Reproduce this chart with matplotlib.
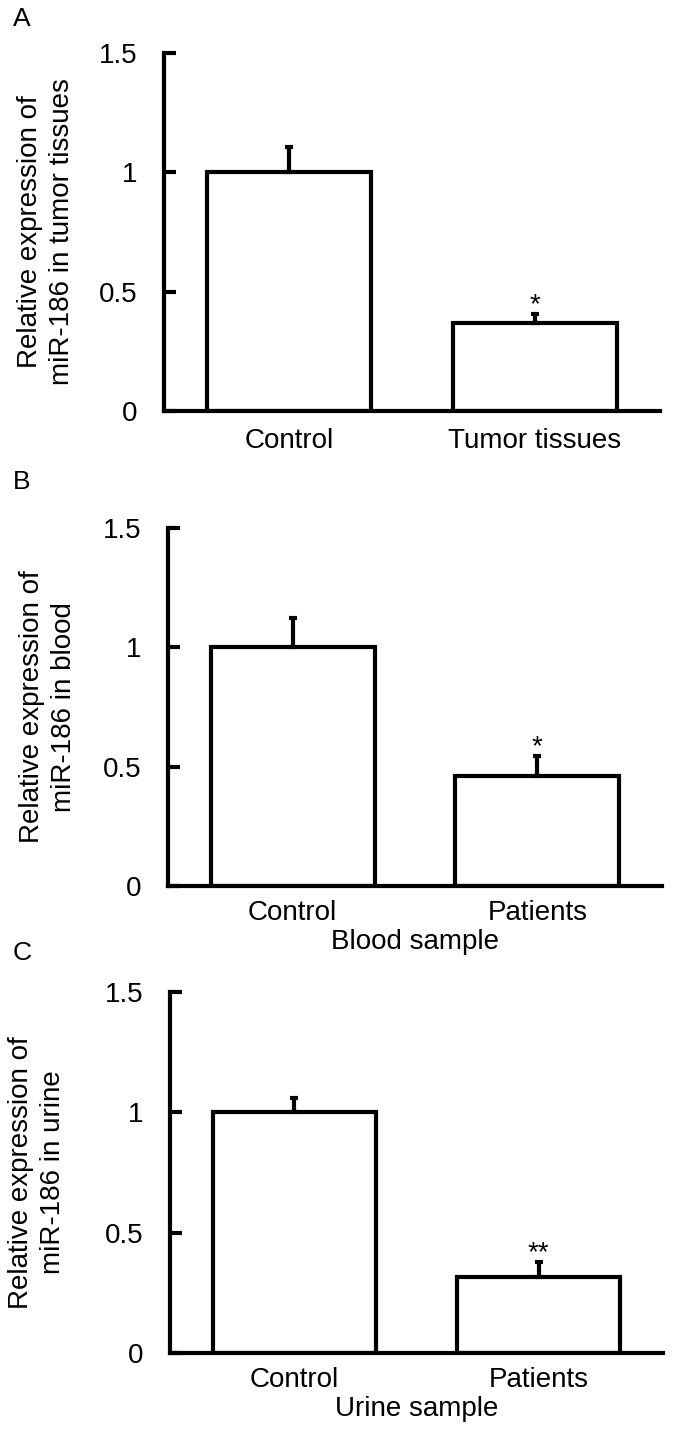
import matplotlib
matplotlib.use("Agg")
import matplotlib.pyplot as plt

plt.rcParams['font.family'] = ['Liberation Sans', 'DejaVu Sans']

# Data
cats_a = ["Control", "Tumor tissues"]
vals_a = [1.0, 0.37]
errs_a = [0.105, 0.035]
sig_a = ["", "*"]

cats_b = ["Control", "Patients"]
vals_b = [1.0, 0.46]
errs_b = [0.125, 0.085]
sig_b = ["", "*"]

cats_c = ["Control", "Patients"]
vals_c = [1.0, 0.315]
errs_c = [0.06, 0.065]
sig_c = ["", "**"]

yticks = [0, 0.5, 1, 1.5]
ytick_labels = ["0", "0.5", "1", "1.5"]

panels = [
    dict(letter="A", cats=cats_a, vals=vals_a, errs=errs_a, sig=sig_a,
         ylabel="Relative expression of\nmiR-186 in tumor tissues", xlabel=None,
         rect=[164/673, 1-411/1450, 496/673, 358/1450], letter_y=1-18.5/1450,
         ylabelpad=17, xpad=12),
    dict(letter="B", cats=cats_b, vals=vals_b, errs=errs_b, sig=sig_b,
         ylabel="Relative expression of\nmiR-186 in blood", xlabel="Blood sample",
         rect=[168/673, 1-886/1450, 494/673, 358/1450], letter_y=1-482.5/1450,
         ylabelpad=19, xpad=10),
    dict(letter="C", cats=cats_c, vals=vals_c, errs=errs_c, sig=sig_c,
         ylabel="Relative expression of\nmiR-186 in urine", xlabel="Urine sample",
         rect=[170/673, 1-1353/1450, 493/673, 361/1450], letter_y=1-953/1450,
         ylabelpad=28, xpad=10),
]

fig = plt.figure(figsize=(6.73, 14.5), dpi=100)
lw = 3.0
fs = 20

for p in panels:
    ax = fig.add_axes(p["rect"])
    x = list(range(len(p["cats"])))
    ax.bar(x, p["vals"], width=0.67, color="white", edgecolor="black",
           linewidth=lw, zorder=2)
    ax.errorbar(x, p["vals"], yerr=[[0]*len(x), p["errs"]], fmt="none",
                ecolor="black", elinewidth=lw, capsize=3, capthick=lw, zorder=3)
    for xi, v, e, s in zip(x, p["vals"], p["errs"], p["sig"]):
        if s:
            ax.annotate(s, xy=(xi, v + e), xytext=(0, -3), textcoords="offset points",
                        ha="center", va="bottom", fontsize=fs)
    ax.set_xlim(-0.51, 1.51)
    ax.set_ylim(0, 1.5)
    ax.set_yticks(yticks)
    ax.set_yticklabels(ytick_labels)
    ax.set_xticks(x)
    ax.set_xticklabels(p["cats"])
    for sp in ["top", "right"]:
        ax.spines[sp].set_visible(False)
    for sp in ["left", "bottom"]:
        ax.spines[sp].set_linewidth(lw)
        ax.spines[sp].set_capstyle("projecting")
    ax.tick_params(axis="y", direction="in", length=8.5, width=lw, pad=19,
                   labelsize=fs)
    ax.tick_params(axis="x", length=0, pad=p["xpad"], labelsize=fs)
    ax.set_ylabel(p["ylabel"], fontsize=fs, labelpad=p["ylabelpad"], linespacing=1.3)
    if p["xlabel"]:
        ax.set_xlabel(p["xlabel"], fontsize=fs, labelpad=2)
    fig.text(13/673, p["letter_y"], p["letter"], fontsize=19, ha="left", va="center")

fig.savefig("out.png", dpi=100, facecolor="white")
